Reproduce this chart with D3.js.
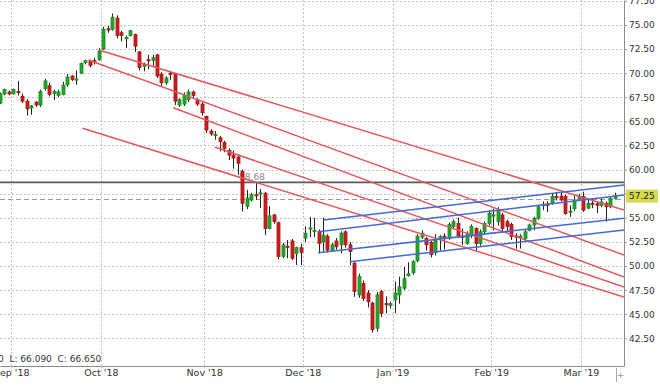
<!DOCTYPE html>
<html>
<head>
<meta charset="utf-8">
<script src="https://d3js.org/d3.v7.min.js"></script>
<style>
  body { margin: 0; background: #fff; }
  svg { display: block; font-family: "DejaVu Sans", Verdana, sans-serif; }
</style>
</head>
<body>
<svg id="chart" width="660" height="385"></svg>
<script>
'use strict';

// daily sessions shown on the chart (weekdays, no Dec 25 / Jan 1)
const dates = [
  "2018-08-29","2018-08-30","2018-08-31",
  "2018-09-03","2018-09-04","2018-09-05","2018-09-06","2018-09-07","2018-09-10","2018-09-11","2018-09-12","2018-09-13","2018-09-14",
  "2018-09-17","2018-09-18","2018-09-19","2018-09-20","2018-09-21","2018-09-24","2018-09-25","2018-09-26","2018-09-27","2018-09-28",
  "2018-10-01","2018-10-02","2018-10-03","2018-10-04","2018-10-05","2018-10-08","2018-10-09","2018-10-10","2018-10-11","2018-10-12",
  "2018-10-15","2018-10-16","2018-10-17","2018-10-18","2018-10-19","2018-10-22","2018-10-23","2018-10-24","2018-10-25","2018-10-26",
  "2018-10-29","2018-10-30","2018-10-31",
  "2018-11-01","2018-11-02","2018-11-05","2018-11-06","2018-11-07","2018-11-08","2018-11-09","2018-11-12","2018-11-13","2018-11-14",
  "2018-11-15","2018-11-16","2018-11-19","2018-11-20","2018-11-21","2018-11-22","2018-11-23","2018-11-26","2018-11-27","2018-11-28",
  "2018-11-29","2018-11-30",
  "2018-12-03","2018-12-04","2018-12-05","2018-12-06","2018-12-07","2018-12-10","2018-12-11","2018-12-12","2018-12-13","2018-12-14",
  "2018-12-17","2018-12-18","2018-12-19","2018-12-20","2018-12-21","2018-12-24","2018-12-26","2018-12-27","2018-12-28","2018-12-31",
  "2019-01-02","2019-01-03","2019-01-04","2019-01-07","2019-01-08","2019-01-09","2019-01-10","2019-01-11","2019-01-14","2019-01-15",
  "2019-01-16","2019-01-17","2019-01-18","2019-01-21","2019-01-22","2019-01-23","2019-01-24","2019-01-25","2019-01-28","2019-01-29",
  "2019-01-30","2019-01-31",
  "2019-02-01","2019-02-04","2019-02-05","2019-02-06","2019-02-07","2019-02-08","2019-02-11","2019-02-12","2019-02-13","2019-02-14",
  "2019-02-15","2019-02-18","2019-02-19","2019-02-20","2019-02-21","2019-02-22","2019-02-25","2019-02-26","2019-02-27","2019-02-28",
  "2019-03-01","2019-03-04","2019-03-05","2019-03-06","2019-03-07","2019-03-08","2019-03-11","2019-03-12"
];

const open = [
  66.9,67.85,68.05,67.85,68.1,67.6,67.1,66.4,67.0,66.7,68.4,68.7,67.9,67.7,67.8,68.8,69.7,69.3,70.0,71.1,
  71.25,71.3,71.4,72.5,74.6,74.55,75.7,74.2,73.6,73.9,74.0,72.2,70.7,71.4,71.3,71.9,69.9,69.0,70.0,69.95,
  66.7,66.8,67.25,68.05,67.25,66.8,65.5,64.0,63.55,63.3,62.8,62.0,61.5,61.3,59.8,56.2,56.85,57.4,57.5,57.55,
  53.9,55.3,54.5,51.0,52.05,52.6,51.3,51.9,52.9,53.85,53.6,53.6,52.5,53.1,51.65,52.6,52.2,53.55,52.2,50.3,
  47.0,48.2,47.2,46.15,43.55,47.35,46.1,45.9,46.5,47.0,47.7,49.0,49.3,50.55,53.0,52.85,52.45,51.4,52.9,53.1,
  52.9,54.1,54.4,53.1,52.35,53.2,53.9,52.35,53.55,54.4,55.25,54.6,55.3,54.6,54.3,53.1,52.95,52.85,53.7,54.25,
  54.95,56.4,56.45,56.5,57.2,57.25,57.2,55.6,55.95,57.0,57.2,56.0,56.5,56.45,56.3,56.5,56.15,57.0
];
const high = [
  68.0,68.4,68.2,68.4,69.2,67.9,67.3,66.7,67.1,68.3,69.4,69.0,68.3,68.3,69.1,69.9,69.8,70.3,71.1,71.4,
  71.4,71.6,72.6,74.8,74.9,76.2,76.0,74.4,73.9,74.5,74.1,72.3,71.1,71.9,71.9,72.0,70.1,69.7,70.2,70.0,
  67.4,68.0,68.3,68.2,67.4,67.0,65.6,64.2,64.0,63.5,63.0,62.2,62.0,61.6,60.0,57.9,57.6,58.6,58.0,57.7,
  56.2,55.4,54.6,52.4,52.7,52.8,52.0,52.3,54.1,55.1,55.0,53.8,55.0,53.3,52.4,52.9,53.6,53.7,52.5,50.4,
  49.2,48.5,47.5,46.3,47.3,47.5,46.85,46.3,48.4,48.9,49.9,50.4,50.6,53.3,53.7,53.0,52.6,53.3,53.2,53.4,
  54.5,54.8,55.0,53.9,53.6,54.3,54.0,53.8,54.6,55.8,55.95,56.1,55.5,54.8,54.5,53.4,53.3,53.8,54.4,55.1,
  56.3,56.7,56.7,57.5,57.7,57.7,57.4,56.3,57.3,57.5,57.7,57.0,57.0,56.7,57.0,56.7,57.2,57.6
];
const low = [
  66.8,67.7,67.7,67.8,67.7,66.9,65.6,65.7,66.5,66.5,68.2,67.6,67.2,67.5,67.7,68.6,69.2,68.8,69.9,70.9,
  70.6,70.9,71.3,72.4,74.2,74.4,73.6,73.3,72.6,73.8,72.2,70.3,70.2,70.4,70.7,69.5,68.6,68.8,69.3,66.7,
  66.5,66.6,67.0,67.4,66.6,65.6,63.8,63.5,63.1,61.9,61.8,61.0,60.1,59.45,55.65,55.9,56.7,56.85,56.0,53.2,
  53.8,54.4,50.7,50.8,50.8,50.6,50.1,50.1,52.5,53.0,53.0,51.3,51.5,51.4,51.5,51.7,51.3,51.9,50.1,46.8,
  46.7,46.4,45.7,43.1,43.2,44.7,45.1,45.6,45.1,46.1,47.5,48.9,49.1,50.4,52.8,51.6,50.9,51.1,51.6,51.7,
  52.7,53.9,52.9,52.2,52.2,52.9,51.6,52.1,53.3,54.2,53.7,54.2,53.6,53.5,52.7,51.8,51.8,52.7,53.6,53.7,
  54.8,55.8,55.6,56.35,56.8,56.7,55.3,55.1,55.7,56.9,55.6,55.9,56.0,55.5,56.1,54.6,56.0,56.9
];
const close = [
  67.85,68.3,67.85,68.3,68.0,67.1,66.3,66.6,66.7,68.1,69.2,67.8,68.1,68.05,68.75,69.6,69.35,69.4,71.0,71.3,
  70.8,71.2,72.3,74.55,74.5,75.8,73.9,73.9,73.7,74.4,72.8,70.6,70.9,71.3,71.6,69.7,69.0,69.5,69.9,67.1,
  67.25,67.7,68.05,67.7,66.8,65.9,64.1,63.7,63.65,62.9,62.2,61.5,61.2,60.65,56.5,57.05,57.4,57.35,57.6,53.9,
  55.2,54.6,51.0,52.2,52.0,50.8,51.9,51.4,53.4,53.95,53.7,52.35,53.2,51.65,52.2,52.0,53.4,52.2,51.5,47.35,
  48.9,46.65,46.3,43.4,47.0,45.1,46.0,46.1,47.2,47.85,48.7,49.2,50.45,53.1,53.4,52.2,51.2,52.7,53.05,53.0,
  54.3,54.6,53.15,53.0,53.4,54.1,52.35,53.55,54.4,55.45,55.3,55.8,53.9,54.1,53.05,53.0,53.1,53.55,54.25,54.95,
  56.15,56.4,56.3,57.2,57.1,56.85,55.45,55.7,56.85,57.2,55.8,56.5,56.45,56.3,56.65,56.15,57.0,57.25
];

const priceTicks = [42.5, 45, 47.5, 50, 52.5, 55, 57.5, 60, 62.5, 65, 67.5, 70, 72.5, 75, 77.5];
const monthStarts = ["2018-09-03", "2018-10-01", "2018-11-01", "2018-12-03", "2019-01-02", "2019-02-01", "2019-03-01"];
const monthLabels = ["Sep '18", "Oct '18", "Nov '18", "Dec '18", "Jan '19", "Feb '19", "Mar '19"];

// drawn trend lines: [start session index, start price, end session index, end price]
const redLines = [
  [22.0, 72.41, 139.1, 55.81],
  [19.7, 71.37, 139.1, 51.14],
  [38.6, 66.42, 139.1, 48.86],
  [47.9, 62.34, 139.1, 47.82],
  [18.4, 64.28, 139.1, 46.78]
];
const blueLines = [
  [72.1, 54.77, 139.1, 58.40],
  [70.95, 53.56, 139.1, 57.37],
  [70.95, 51.38, 139.1, 54.95],
  [78.0, 50.45, 139.1, 53.73]
];

const markLevel = 58.68;
const dashedLevel = 56.9;
const lastPrice = 57.25;
const infoText = "0  L: 66.090  C: 66.650";

const plotRight = 624, plotBottom = 366;

const svg = d3.select("#chart");

const x = d3.scaleLinear().domain([0, 139.1]).range([0, plotRight]);
const y = d3.scaleLinear().domain([39.63, 77.59]).range([plotBottom, 0]);

svg.append("defs").append("clipPath").attr("id", "plot")
  .append("rect").attr("x", 0).attr("y", 0).attr("width", plotRight).attr("height", plotBottom);

const monthIdx = monthStarts.map(function(d) { return dates.indexOf(d) - 0.5; });

// grid
const grid = svg.append("g");
grid.selectAll(".hg").data(priceTicks).enter().append("line")
  .attr("x1", 0).attr("x2", plotRight)
  .attr("y1", function(d) { return Math.round(y(d)) + 0.5; })
  .attr("y2", function(d) { return Math.round(y(d)) + 0.5; })
  .attr("stroke", "#c4c4c4").attr("stroke-dasharray", "2,2");
grid.selectAll(".vg").data(monthIdx).enter().append("line")
  .attr("x1", function(d) { return Math.round(x(d)) + 0.5; })
  .attr("x2", function(d) { return Math.round(x(d)) + 0.5; })
  .attr("y1", 0).attr("y2", plotBottom)
  .attr("stroke", "#c4c4c4").attr("stroke-dasharray", "2,2");

const plot = svg.append("g").attr("clip-path", "url(#plot)");

// horizontal level + its label (sits under the candles)
plot.append("line")
  .attr("x1", 0).attr("x2", plotRight)
  .attr("y1", y(markLevel)).attr("y2", y(markLevel))
  .attr("stroke", "#5a5a5a").attr("stroke-width", 1.6);
plot.append("text")
  .attr("x", x(53.3)).attr("y", y(markLevel) - 2.5)
  .attr("font-size", 9).attr("fill", "#8a8a8a")
  .text(markLevel.toFixed(2));

plot.append("line")
  .attr("x1", 0).attr("x2", plotRight)
  .attr("y1", y(dashedLevel)).attr("y2", y(dashedLevel))
  .attr("stroke", "#9a9a9a").attr("stroke-dasharray", "5,3");

// candles
const idx = d3.range(dates.length);
plot.selectAll(".wick").data(idx).enter().append("line")
  .attr("x1", function(i) { return Math.round(x(i)) + 0.5; })
  .attr("x2", function(i) { return Math.round(x(i)) + 0.5; })
  .attr("y1", function(i) { return y(high[i]); })
  .attr("y2", function(i) { return y(low[i]); })
  .attr("stroke", "#222");
plot.selectAll(".body").data(idx).enter().append("rect")
  .attr("x", function(i) { return Math.round(x(i)) - 1; })
  .attr("width", 3)
  .attr("y", function(i) { return y(Math.max(open[i], close[i])); })
  .attr("height", function(i) { return Math.max(1.2, Math.abs(y(open[i]) - y(close[i]))); })
  .attr("fill", function(i) { return close[i] >= open[i] ? "#22a52c" : "#cc1d1f"; })
  .attr("stroke", function(i) { return close[i] >= open[i] ? "#1a8a22" : "#a81416"; })
  .attr("stroke-width", 0.8);

// trend lines
function drawLines(data, color) {
  plot.selectAll(null).data(data).enter().append("line")
    .attr("x1", function(d) { return x(d[0]); })
    .attr("y1", function(d) { return y(d[1]); })
    .attr("x2", function(d) { return x(d[2]); })
    .attr("y2", function(d) { return y(d[3]); })
    .attr("stroke", color).attr("stroke-width", 1.5);
}
drawLines(redLines, "#e4575a");
drawLines(blueLines, "#4468d8");

// axes (57.50 sits under the last price tag, so it has no label)
const yAxis = svg.append("g").attr("transform", "translate(" + plotRight + ",0)")
  .call(d3.axisRight(y).tickValues(priceTicks).tickSize(3).tickSizeOuter(0).tickPadding(2)
    .tickFormat(function(d) { return d === 57.5 ? "" : d3.format(".2f")(d); }));
yAxis.selectAll("text").attr("font-size", 9).attr("fill", "#333").attr("font-family", "DejaVu Sans, Verdana, sans-serif");
yAxis.selectAll("line").attr("stroke", "#999");
yAxis.select(".domain").attr("stroke", "#8c8c8c");

const xAxis = svg.append("g").attr("transform", "translate(0," + plotBottom + ")")
  .call(d3.axisBottom(x).tickValues(monthIdx).tickSize(6).tickSizeOuter(0)
    .tickFormat(function(d, i) { return monthLabels[i]; }));
xAxis.selectAll("text").attr("y", 3).attr("font-size", 9.5).attr("fill", "#333")
  .attr("font-family", "DejaVu Sans, Verdana, sans-serif");
xAxis.selectAll(".tick line").attr("stroke", "#c4c4c4").attr("stroke-dasharray", "2,2");
xAxis.select(".domain").attr("stroke", "#8c8c8c");

// last price tag
const tag = svg.append("g").attr("transform", "translate(626," + y(lastPrice) + ")");
tag.append("rect").attr("x", 0).attr("y", -6.5).attr("width", 32).attr("height", 13).attr("fill", "#d6dc48");
tag.append("text").attr("x", 3).attr("dy", "0.35em").attr("font-size", 9).attr("fill", "#222")
  .text(lastPrice.toFixed(2));

// info line + corner control
svg.append("text").attr("x", -2).attr("y", 362).attr("font-size", 9).attr("fill", "#333")
  .style("white-space", "pre").text(infoText);
svg.append("line").attr("x1", 616.5).attr("x2", 616.5).attr("y1", 368).attr("y2", 382).attr("stroke", "#aaa");
svg.append("text").attr("x", 620.5).attr("y", 378).attr("font-size", 9).attr("fill", "#999")
  .attr("text-anchor", "middle").text("+");
</script>
</body>
</html>
